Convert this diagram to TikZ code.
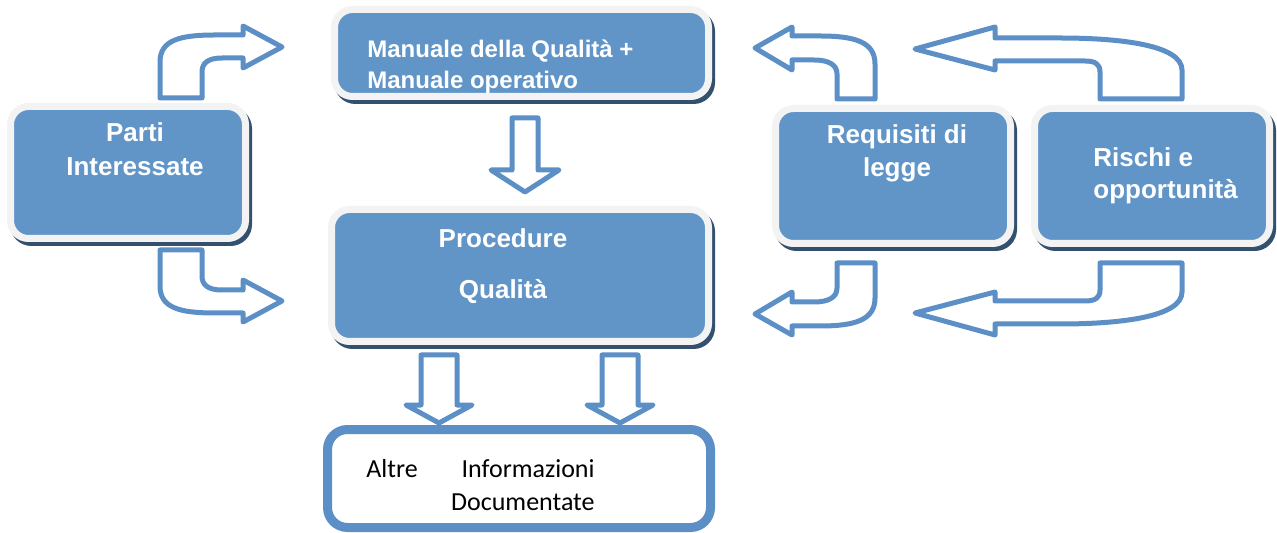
\documentclass[tikz,border=0pt]{standalone}
\usepackage{fontspec}
\setmainfont{Liberation Sans}
\newfontfamily\calibri{Carlito}
\definecolor{boxblue}{HTML}{6195C8}
\definecolor{arrowblue}{HTML}{5C8FC6}
\definecolor{rimgrey}{HTML}{F3F3F3}
\definecolor{shadowc}{HTML}{34506F}

\begin{document}
\begin{tikzpicture}[x=0.5pt,y=-0.5pt,
    box/.style={rectangle, rounded corners=9pt, fill=boxblue, draw=rimgrey, line width=3.5pt, inner sep=0pt,
      preaction={draw=shadowc, line width=3.5pt, transform canvas={shift={(1.5pt,-2pt)}}}},
    docbox/.style={rectangle, rounded corners=10pt, fill=white, draw=arrowblue, line width=4.5pt, inner sep=0pt},
    lbl/.style={text=white, inner sep=0pt},
    barrow/.style={draw=arrowblue, fill=white, line width=2.5pt, line join=round}]
            \useasboundingbox (0,0) rectangle (1277,533);

            % boxes
            \node[box, minimum width=117.5pt, minimum height=66pt] (pi) at (128,172.5) {};
            \node[box, minimum width=187pt, minimum height=43.5pt] (mq) at (521.5,53) {};
            \node[box, minimum width=188.5pt, minimum height=66pt] (pq) at (520,275.5) {};
            \node[box, minimum width=117.5pt, minimum height=67.5pt] (rl) at (893,176) {};
            \node[box, minimum width=117.5pt, minimum height=67.5pt] (ro) at (1152,176) {};
            \node[docbox, minimum width=191.5pt, minimum height=49pt] (ai) at (519,478.5) {};

            % texts
            \node[lbl, align=center, font=\bfseries\fontsize{13}{17}\selectfont] (pit) at (135,149) {Parti\\Interessate};
            \node[lbl, align=left, anchor=west, font=\bfseries\fontsize{12}{15.5}\selectfont] (mqt) at (367,67) {Manuale della Qualità +\\Manuale operativo};
            \node[lbl, align=center, font=\bfseries\fontsize{13}{25.5}\selectfont] (pqt) at (503,266) {Procedure\\Qualità};
            \node[lbl, align=center, font=\bfseries\fontsize{13}{16.5}\selectfont] (rlt) at (897,153) {Requisiti di\\legge};
            \node[lbl, align=left, anchor=west, font=\bfseries\fontsize{13}{16}\selectfont] (rot) at (1093,176) {Rischi e\\opportunità};
            \node[align=right, anchor=east, inner sep=0pt, font=\calibri\fontsize{13}{16.5}\selectfont] (ait) at (595,485) {Altre\hspace{19pt} Informazioni\\Documentate};

            % down arrows
            \draw[barrow] (512,118) -- (538,118) -- (538,170) -- (559,170) -- (525,192) -- (491,170) -- (512,170) -- cycle;
            \foreach \cx in {439,620}
              \draw[barrow] (\cx-18,355) -- (\cx+18,355) -- (\cx+18,405) -- (\cx+33,405) -- (\cx,423) -- (\cx-33,405) -- (\cx-18,405) -- cycle;

            % bent arrows, left
            \draw[barrow] (160,98) -- (160,62) .. controls (160,40) and (180,35) .. (215,35) -- (243,35) -- (243,26)
              -- (282,47) -- (243,68) -- (243,58) -- (222,58) .. controls (208,58) and (202,63) .. (202,72) -- (202,98) -- cycle;
            \draw[barrow] (160,250) -- (160,286) .. controls (160,308) and (180,313) .. (215,313) -- (243,313) -- (243,322)
              -- (282,301) -- (243,280) -- (243,290) -- (222,290) .. controls (208,290) and (202,285) .. (202,276) -- (202,250) -- cycle;

            % bent arrows, right
            \draw[barrow] (875,99) -- (875,64) .. controls (875,42) and (855,36) .. (820,36) -- (792,36) -- (792,27)
              -- (755,48) -- (792,70) -- (792,60) -- (814,60) .. controls (829,60) and (837,65) .. (837,74) -- (837,99) -- cycle;
            \draw[barrow] (875,263) -- (875,298) .. controls (875,320) and (855,326) .. (820,326) -- (792,326) -- (792,335)
              -- (755,314) -- (792,292) -- (792,302) -- (814,302) .. controls (829,302) and (837,297) .. (837,288) -- (837,263) -- cycle;
            \draw[barrow] (1182,99) -- (1182,70) .. controls (1182,45) and (1120,38) .. (1060,38) -- (995,38) -- (995,27)
              -- (915,49) -- (995,70) -- (995,61) -- (1085,61) .. controls (1095,61) and (1100,64) .. (1100,72) -- (1100,99) -- cycle;
            \draw[barrow] (1182,263) -- (1182,292) .. controls (1182,317) and (1120,324) .. (1060,324) -- (995,324) -- (995,335)
              -- (915,313) -- (995,292) -- (995,301) -- (1085,301) .. controls (1095,301) and (1100,298) .. (1100,290) -- (1100,263) -- cycle;
        \end{tikzpicture}
\end{document}
